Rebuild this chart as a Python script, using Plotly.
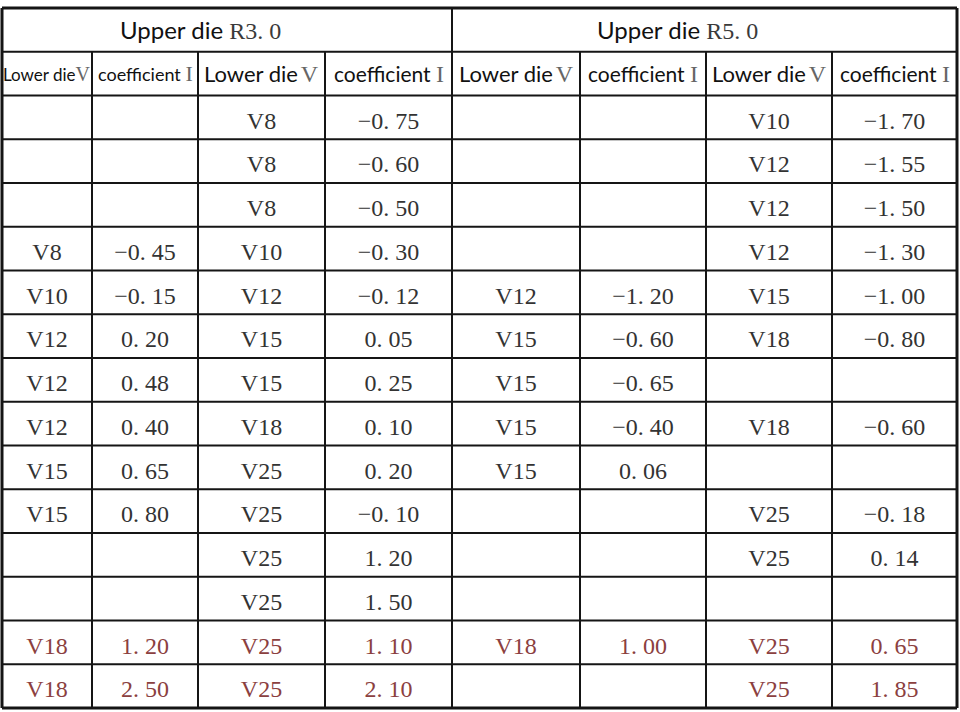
import plotly.graph_objects as go

# Coefficient table: upper die radius vs. lower die opening
group_titles = ["R3.0", "R5.0"]
sub_headers = ["Lower die", "coefficient", "Lower die", "coefficient",
               "Lower die", "coefficient", "Lower die", "coefficient"]
sub_header_marks = ["V", "I", "V", "I", "V", "I", "V", "I"]

r3_a_die = ["", "", "", "V8", "V10", "V12", "V12", "V12", "V15", "V15", "", "", "V18", "V18"]
r3_a_coef = [None, None, None, -0.45, -0.15, 0.20, 0.48, 0.40, 0.65, 0.80, None, None, 1.20, 2.50]
r3_b_die = ["V8", "V8", "V8", "V10", "V12", "V15", "V15", "V18", "V25", "V25", "V25", "V25", "V25", "V25"]
r3_b_coef = [-0.75, -0.60, -0.50, -0.30, -0.12, 0.05, 0.25, 0.10, 0.20, -0.10, 1.20, 1.50, 1.10, 2.10]
r5_a_die = ["", "", "", "", "V12", "V15", "V15", "V15", "V15", "", "", "", "V18", ""]
r5_a_coef = [None, None, None, None, -1.20, -0.60, -0.65, -0.40, 0.06, None, None, None, 1.00, None]
r5_b_die = ["V10", "V12", "V12", "V12", "V15", "V18", "", "V18", "", "V25", "V25", "", "V25", "V25"]
r5_b_coef = [-1.70, -1.55, -1.50, -1.30, -1.00, -0.80, None, -0.60, None, -0.18, 0.14, None, 0.65, 1.85]

# rows drawn in the reddish colour (last two rows)
highlight_rows = [12, 13]

# layout (pixels)
W, H = 960, 712
LEFT, TOP, ROW_H = 2, 8, 43.75
col_widths = [90, 106, 127, 127, 128, 126, 126, 125]
HEADER_ROWS = 2
TEXT_DROP = 0.12  # the serif figures sit a little below the row middle

SANS = "Lato, Open Sans, sans-serif"
SERIF = "Liberation Serif, DejaVu Serif, serif"
LINE = "#151515"
TEXT = "#333333"
RED = "#8b4040"


def fmt(v):
    if v is None:
        return ""
    # the source font sets the period on a full digit cell, hence the gap
    return f"{v:.2f}".replace("-", "\u2212").replace(".", ".\u2005")


edges = [LEFT]
for w in col_widths:
    edges.append(edges[-1] + w)
centers = [(a + b) / 2 for a, b in zip(edges[:-1], edges[1:])]

columns = [r3_a_die, [fmt(v) for v in r3_a_coef], r3_b_die, [fmt(v) for v in r3_b_coef],
           r5_a_die, [fmt(v) for v in r5_a_coef], r5_b_die, [fmt(v) for v in r5_b_coef]]
n_rows = len(r3_b_die)
total_rows = n_rows + HEADER_ROWS
rows = [i + HEADER_ROWS + TEXT_DROP for i in range(n_rows)]
row_colors = [RED if i in highlight_rows else TEXT for i in range(n_rows)]

fig = go.Figure()

for cx, col in zip(centers, columns):
    fig.add_trace(go.Scatter(
        x=[cx] * n_rows, y=rows, text=col, mode="text",
        textposition="middle center",
        textfont=dict(family=SERIF, size=24, color=row_colors),
        hoverinfo="skip", showlegend=False,
    ))

# header texts (the group titles sit left of centre in the source)
group_centers = [(edges[0] + edges[4]) / 2, (edges[4] + edges[8]) / 2]
for gx, t in zip(group_centers, group_titles):
    fig.add_annotation(
        x=gx, y=0, xref="x", yref="y", showarrow=False, xshift=-27,
        text=(f"Upper die "
              f"<span style='font-family:{SERIF};font-size:24px;color:#3a3a3a'>"
              f"{t.replace('.', '.' + chr(0x2005))}</span>"),
        font=dict(family=SANS, size=24, color="#111111"),
    )

sub_sizes = [17, 18, 22, 21, 22, 21, 22, 21]
mark_sizes = [20, 22, 24, 24, 24, 24, 24, 24]
for i, (cx, a, b) in enumerate(zip(centers, sub_headers, sub_header_marks)):
    if i == 0:
        gap = ""
    elif a.startswith("Lower"):
        gap = "\u2009"
    else:
        gap = " "
    fig.add_annotation(
        x=cx, y=1, xref="x", yref="y", showarrow=False,
        text=(f"{a}{gap}<span style='font-family:{SERIF};font-size:{mark_sizes[i]}px;"
              f"color:#666666'>{b}</span>"),
        font=dict(family=SANS, size=sub_sizes[i], color="#111111"),
    )

# grid lines
for k in range(total_rows + 1):
    fig.add_shape(type="line", xref="x", yref="y",
                  x0=edges[0], x1=edges[-1], y0=k - 0.5, y1=k - 0.5,
                  line=dict(color=LINE, width=3 if k in (0, total_rows) else 2))
for j, ex in enumerate(edges):
    full = j in (0, 4, len(edges) - 1)
    fig.add_shape(type="line", xref="x", yref="y",
                  x0=ex, x1=ex, y0=-0.5 if full else 0.5, y1=total_rows - 0.5,
                  line=dict(color=LINE, width=3 if j in (0, len(edges) - 1) else 2))

y_top = -0.5 - TOP / ROW_H
y_bottom = y_top + H / ROW_H

fig.update_layout(
    width=W, height=H,
    margin=dict(l=0, r=0, t=0, b=0),
    paper_bgcolor="white",
    plot_bgcolor="white",
    xaxis=dict(range=[0, W], visible=False, fixedrange=True),
    yaxis=dict(range=[y_bottom, y_top], visible=False, fixedrange=True),
)

# the page body has a default 8px margin; drop it so the figure sits at 0,0
fig.write_html("out.html", config={"displayModeBar": False},
               post_script="document.body.style.margin='0px';")
